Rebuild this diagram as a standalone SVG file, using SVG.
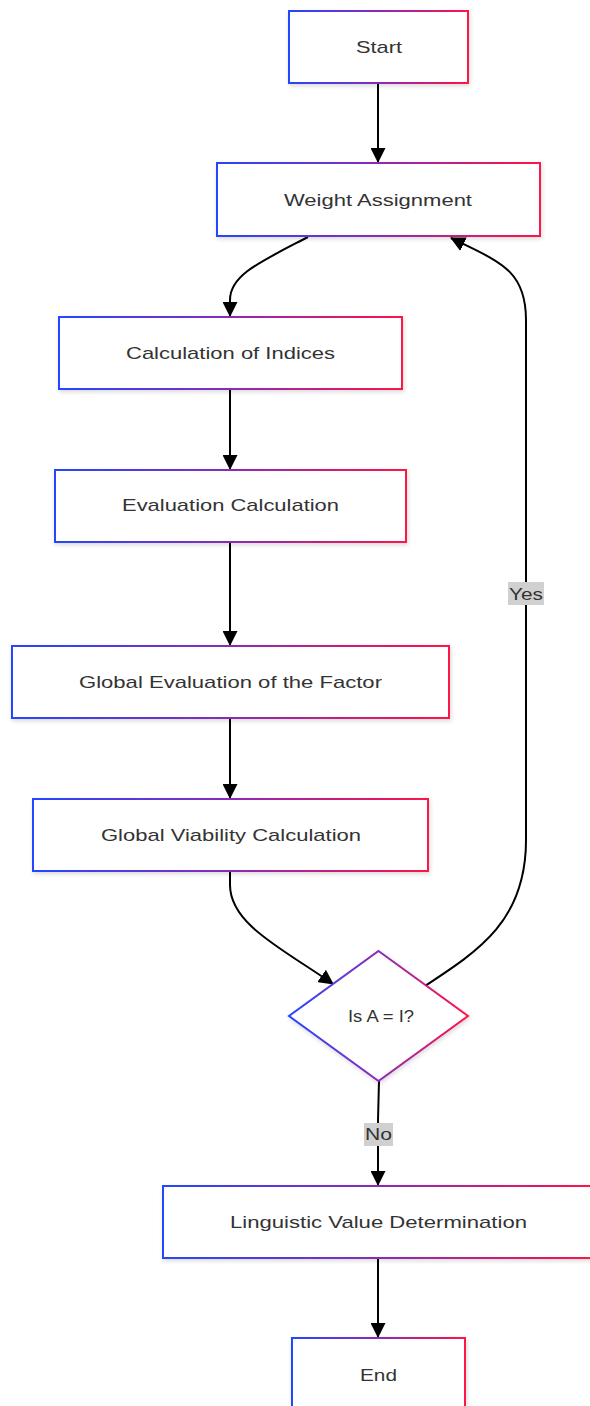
<svg xmlns="http://www.w3.org/2000/svg" width="590" height="1406" viewBox="0 0 590 1406">
<style>
.n{fill:#fff;stroke:url(#g);stroke-width:2;filter:url(#sh)}
.t{font-family:"Liberation Sans",Arial,sans-serif;font-size:17px;fill:#333;text-anchor:middle;dominant-baseline:central}
.e{fill:none;stroke:#000;stroke-width:2;marker-end:url(#ah)}
.lb{fill:#d0d0d0}
.lt{font-family:"Liberation Sans",Arial,sans-serif;font-size:17px;fill:#333;text-anchor:middle;dominant-baseline:central}
</style>
<defs>
<linearGradient id="g" x1="0" y1="0" x2="1" y2="0" gradientUnits="objectBoundingBox">
<stop offset="0" stop-color="#2446ff"/>
<stop offset="0.5" stop-color="#8a2bb8"/>
<stop offset="1" stop-color="#ff1248"/>
</linearGradient>
<filter id="sh" x="-10%" y="-10%" width="120%" height="130%">
<feDropShadow dx="1" dy="2" stdDeviation="2" flood-color="#000" flood-opacity="0.15"/>
</filter>
<marker id="ah" markerWidth="15" markerHeight="15" refX="14" refY="7.5" orient="auto" markerUnits="userSpaceOnUse">
<path d="M0,0 L15,7.5 L0,15 Z" fill="#000"/>
</marker>
</defs>
<rect width="590" height="1406" fill="#fff"/>
<g id="edges">
<path class="e" d="M378,83 L378,162"/>
<path class="e" d="M308,237 C260,262 230,275 230,300 L230,316"/>
<path class="e" d="M230,389 L230,469"/>
<path class="e" d="M230,542 L230,645"/>
<path class="e" d="M230,718 L230,798"/>
<path class="e" d="M230,871 L230,885 C230,925 285,950 333,984"/>
<path class="e" d="M425,986 C480,950 526,920 526,840 L526,320 C526,270 500,262 451,238"/>
<path class="e" d="M379,1081 L378,1120 L378,1185"/>
<path class="e" d="M378,1258 L378,1337"/>
<rect class="lb" x="508" y="582" width="36" height="23"/>
<text class="lt" x="526" y="594" textLength="34" lengthAdjust="spacingAndGlyphs">Yes</text>
<rect class="lb" x="364" y="1123" width="29" height="23"/>
<text class="lt" x="378.5" y="1134" textLength="27" lengthAdjust="spacingAndGlyphs">No</text>
</g>
<g id="start"><rect class="n" x="289" y="11" width="179" height="72"/><text class="t" x="379" y="47" textLength="46" lengthAdjust="spacingAndGlyphs">Start</text></g>
<g id="weight"><rect class="n" x="217" y="163" width="323" height="73"/><text class="t" x="378" y="200" textLength="188" lengthAdjust="spacingAndGlyphs">Weight Assignment</text></g>
<g id="indices"><rect class="n" x="59" y="317" width="343" height="72"/><text class="t" x="230.5" y="353" textLength="209" lengthAdjust="spacingAndGlyphs">Calculation of Indices</text></g>
<g id="evaluation"><rect class="n" x="55" y="470" width="351" height="72"/><text class="t" x="230.5" y="505" textLength="217" lengthAdjust="spacingAndGlyphs">Evaluation Calculation</text></g>
<g id="global-eval"><rect class="n" x="12" y="646" width="437" height="72"/><text class="t" x="230.5" y="682" textLength="303" lengthAdjust="spacingAndGlyphs">Global Evaluation of the Factor</text></g>
<g id="viability"><rect class="n" x="33" y="799" width="395" height="72"/><text class="t" x="231" y="835" textLength="260" lengthAdjust="spacingAndGlyphs">Global Viability Calculation</text></g>
<g id="decision"><polygon class="n" points="378.5,951 468,1016 378.5,1081 289,1016"/><text class="t" x="381" y="1016" textLength="66" lengthAdjust="spacingAndGlyphs">Is A = I?</text></g>
<g id="linguistic"><rect class="n" x="163" y="1186" width="430" height="72"/><text class="t" x="378.5" y="1222" textLength="297" lengthAdjust="spacingAndGlyphs">Linguistic Value Determination</text></g>
<g id="end"><rect class="n" x="292" y="1338" width="173" height="73"/><text class="t" x="378.5" y="1375" textLength="37" lengthAdjust="spacingAndGlyphs">End</text></g>
</svg>
